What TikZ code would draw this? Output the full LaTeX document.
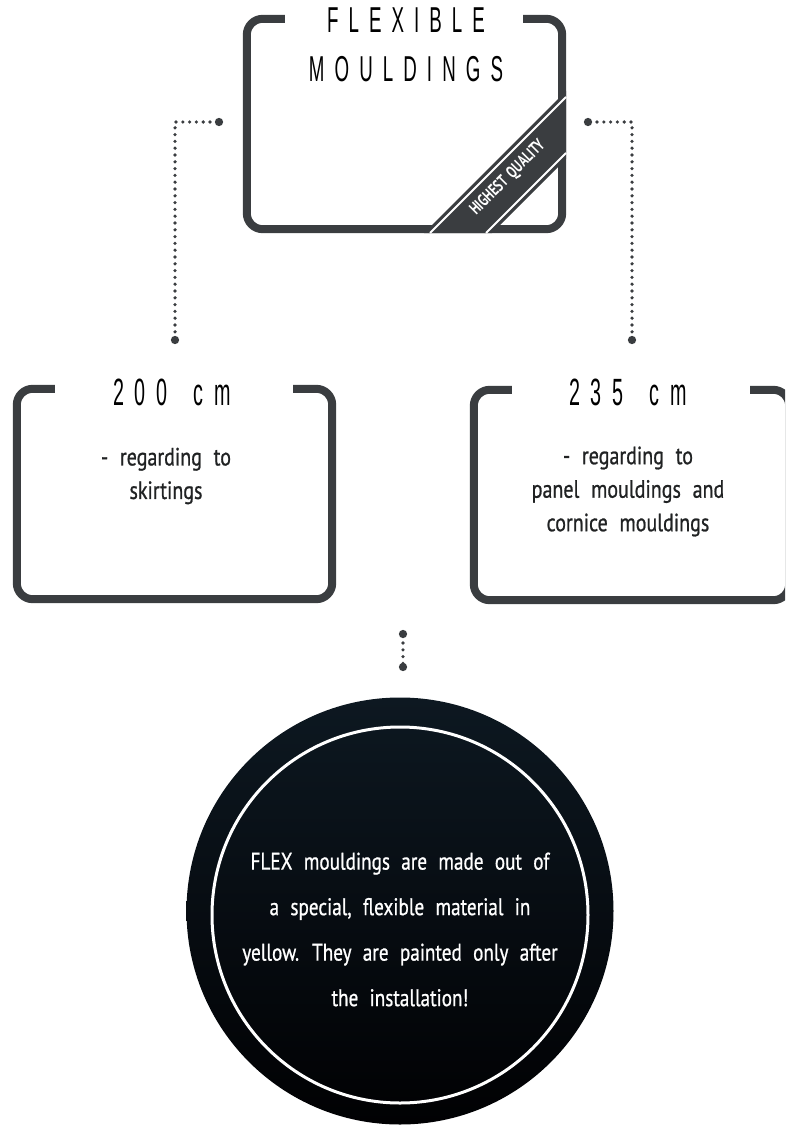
\documentclass[tikz,border=0pt]{standalone}
\usepackage{fontspec}
\setmainfont{PT Sans}[FakeStretch=0.8,WordSpace=2.2,FakeBold=0.8]
\newfontfamily\headfont{Liberation Sans}[FakeStretch=0.52,LetterSpace=28]
\newfontfamily\ribbonfont{PT Sans Bold}[FakeStretch=0.72,WordSpace=1.6]
\usetikzlibrary{arrows.meta}
\definecolor{frameclr}{HTML}{3A3D40}
\definecolor{circtop}{HTML}{0D1821}
\definecolor{circmid}{HTML}{03070C}
\definecolor{circbot}{HTML}{010103}

\newcommand\openframe[1]{%
  \draw[frame] ([xshift=38pt]#1.north west) -- (#1.north west) -- (#1.south west)
    -- (#1.south east) -- (#1.north east) -- ([xshift=-39pt]#1.north east);}

\begin{document}
\begin{tikzpicture}[x=1pt,y=-1pt,
    frame/.style={draw=frameclr,line width=8pt,rounded corners=16pt},
    boxnode/.style={minimum width=315pt,minimum height=210pt,inner sep=0pt},
    dotline/.style={frameclr,line width=3.6pt,line cap=round,dash pattern=on 0pt off 6.8pt,
      {Circle[length=8pt]}-{Circle[length=8pt]}},
    headtext/.style={font=\headfont\fontsize{36}{49}\selectfont,anchor=base,inner sep=0pt},
    sizetext/.style={font=\headfont\fontsize{38}{38}\selectfont,anchor=base,inner sep=0pt},
    bodytext/.style={font=\fontsize{25}{33.5}\selectfont,align=center,text=frameclr!55!black}]
  \clip (0,0) rectangle (785,1129);

  \node[boxnode] (flex) at (404.5,124) {};
  \openframe{flex}
  \fill[frameclr] (424,233) -- (492,233) -- (566,159) -- (566,91) -- cycle;
  \draw[white,line width=2pt] (430,233) -- (566,97) (486,233) -- (566,153);
  \node[rotate=45,text=white,font=\ribbonfont\fontsize{17}{17}\selectfont] (quality) at (508,178) {HIGHEST QUALITY};
  \node[headtext] (title1) at (406,33) {FLEXIBLE};
  \node[headtext] (title2) at (406,82) {MOULDINGS};

  \node[boxnode] (skirt) at (174.5,494) {};
  \openframe{skirt}
  \node[sizetext] (skirtlen) at (172,405) {200\hspace{10pt} cm};
  \node[bodytext] (skirttext) at (166,476) {- regarding to\\skirtings};

  \node[boxnode] (panel) at (631.5,495) {};
  \openframe{panel}
  \node[sizetext] (panellen) at (628,405) {235\hspace{10pt} cm};
  \node[bodytext] (paneltext) at (628,491.5) {- regarding to\\panel mouldings and\\cornice mouldings};

  \coordinate (lfrom) at (223,122);
  \coordinate (lto) at (175,344);
  \coordinate (rfrom) at (584,122);
  \coordinate (rto) at (632,344);
  \coordinate (mtop) at (403,630);
  \coordinate (mbot) at (403,671);
  \draw[dotline] (lfrom) -| (lto);
  \draw[dotline] (rfrom) -| (rto);
  \draw[dotline] (mtop) -- (mbot);

  \node[circle,minimum size=427pt,inner sep=0pt,top color=circtop,middle color=circmid,bottom color=circbot] (note) at (400,911) {};
  \node[circle,draw=white,line width=3pt,minimum size=376pt,inner sep=0pt] (ring) at (400,915) {};
  \node[font=\fontsize{24}{45.5}\selectfont,text=white,align=center] (notetext) at (400,929.5)
    {FLEX mouldings are made out of\\a special, flexible material in\\yellow. They are painted only after\\the installation!};
\end{tikzpicture}
\end{document}
